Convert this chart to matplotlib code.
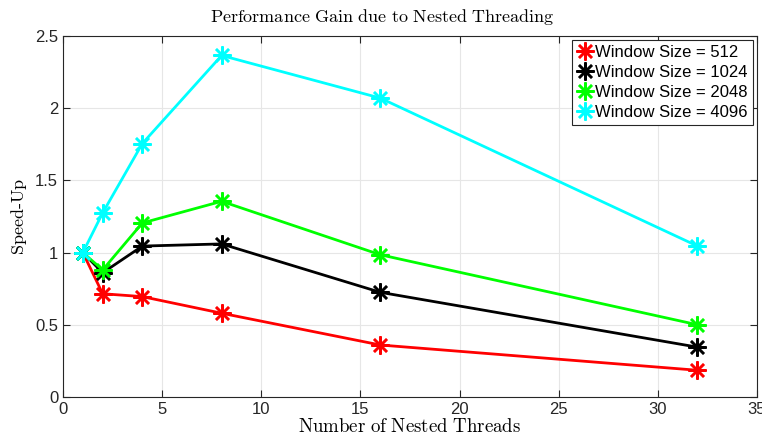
import matplotlib.pyplot as plt

threads = [1, 2, 4, 8, 16, 32]
speedup_512 = [1.0, 0.715, 0.695, 0.58, 0.36, 0.185]
speedup_1024 = [1.0, 0.86, 1.045, 1.06, 0.725, 0.345]
speedup_2048 = [1.0, 0.88, 1.205, 1.355, 0.985, 0.50]
speedup_4096 = [1.0, 1.275, 1.755, 2.365, 2.07, 1.045]
labels = ['Window Size = 512', 'Window Size = 1024',
          'Window Size = 2048', 'Window Size = 4096']
colors = ['#ff0000', '#000000', '#00ff00', '#00ffff']

plt.rcParams['mathtext.fontset'] = 'cm'
plt.rcParams['font.family'] = 'Liberation Sans'

fig = plt.figure(figsize=(7.62, 4.47), dpi=100)
ax = fig.add_axes([0.0827, 0.1119, 0.9107, 0.8076])

for ys, lab, c in zip([speedup_512, speedup_1024, speedup_2048, speedup_4096], labels, colors):
    ax.plot(threads, ys, color=c, linewidth=2, marker=(8, 2, 0), markersize=13,
            markeredgewidth=1.8, label=lab)

ax.set_xlim(0, 35)
ax.set_ylim(0, 2.5)
ax.set_xticks(range(0, 36, 5))
ax.set_yticks([0, 0.5, 1, 1.5, 2, 2.5])
ax.set_yticklabels(['0', '0.5', '1', '1.5', '2', '2.5'])
ax.grid(True, color='#e6e6e6', linewidth=0.8)
ax.set_axisbelow(True)
ax.tick_params(direction='in', length=5, labelsize=12, colors='#262626', top=True, right=True)
for s in ax.spines.values():
    s.set_color('#262626')
    s.set_linewidth(0.8)

ax.set_title(r'$\mathrm{Performance\ Gain\ due\ to\ Nested\ Threading}$', fontsize=13,
             pad=10, x=0.46)
ax.set_xlabel(r'$\mathrm{Number\ of\ Nested\ Threads}$', fontsize=13.6, labelpad=1)
ax.set_ylabel(r'$\mathrm{Speed\text{-}Up}$', fontsize=13, labelpad=4)

leg = ax.legend(loc='upper right', fontsize=12, handlelength=1.0, handletextpad=0.1,
                borderpad=0.3, labelspacing=0.3, fancybox=False, framealpha=1,
                edgecolor='#262626', borderaxespad=0.25)
leg.get_frame().set_linewidth(0.8)
for h in leg.legend_handles:
    h.set_linestyle('None')

fig.savefig('out.png', dpi=100)
